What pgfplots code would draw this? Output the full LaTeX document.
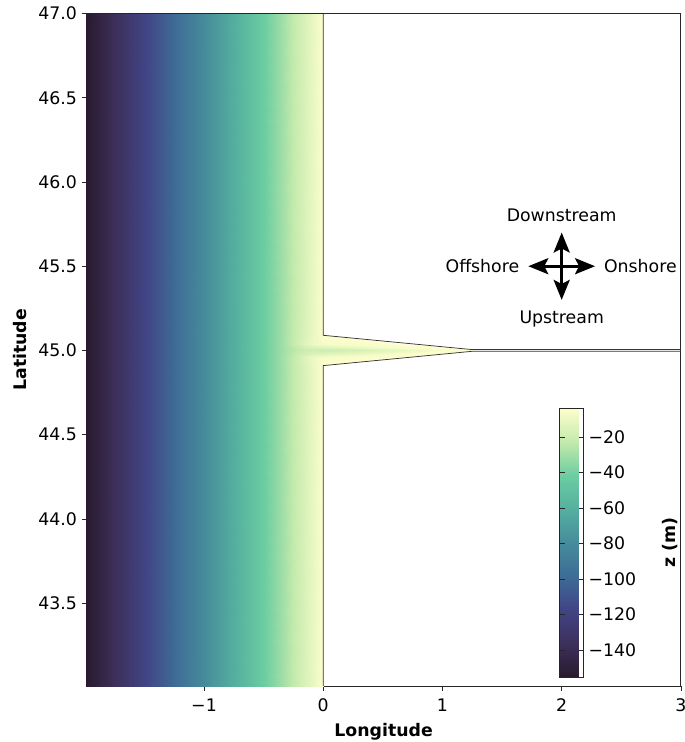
\documentclass[border=0pt]{standalone}
\usepackage{fontspec}
\setmainfont{DejaVu Sans}
\usepackage{pgfplots}
\pgfplotsset{compat=1.18}
\usetikzlibrary{arrows.meta}
\pgfplotsset{colormap={deep}{rgb255=(40,26,44) rgb255=(61,48,92) rgb255=(65,68,133) rgb255=(62,108,150) rgb255=(70,140,155) rgb255=(85,175,160) rgb255=(108,205,160) rgb255=(195,234,172) rgb255=(253,254,204)}}
\begin{document}
\begin{tikzpicture}
\useasboundingbox (-64.8pt,-42pt) rectangle (448.95pt,514.9pt);
\begin{axis}[
  at={(0pt,0pt)},anchor=south west,
  scale only axis,width=446.25pt,height=504.75pt,
  xmin=-1.987,xmax=3,ymin=43.008,ymax=47,
  font=\fontsize{13}{15}\selectfont,
  axis line style={line width=0.75pt,black!85},
  tick style={line width=0.6pt,black!85},
  tick align=outside,major tick length=3.6pt,
  xtick pos=bottom,ytick pos=left,
  xtick={-1,0,1,2,3},xticklabels={−1,0,1,2,3},
  ytick={43.5,44,44.5,45,45.5,46,46.5,47},
  yticklabels={43.5,44.0,44.5,45.0,45.5,46.0,46.5,47.0},
  xticklabel style={yshift=-2.5pt},
  xlabel={\textbf{Longitude}},ylabel={\textbf{Latitude}},
  xlabel style={yshift=-2pt},ylabel style={yshift=1.5pt},
  colormap name=deep,
  point meta min=-155.2,point meta max=-3.7,
  colorbar,
  colorbar style={
    at={(0.7966,0.0134)},anchor=south west,
    scale only axis,width=18pt,height=201.75pt,
    font=\fontsize{13}{15}\selectfont,
    ytick={-140,-120,-100,-80,-60,-40,-20},
    yticklabels={−140,−120,−100,−80,−60,−40,−20},
    ylabel={\textbf{z (m)}},
    ylabel style={font=\fontsize{13}{15}\selectfont,yshift=-13pt},
    yticklabel style={font=\fontsize{13}{15}\selectfont},
    axis line style={line width=0.75pt,black!85},
    tick style={line width=0.6pt,black!85},
    major tick length=3.6pt,
  },
]
\addplot[surf,shader=interp,mesh/cols=8,point meta=explicit] table[x=x,y=y,meta=z] {
x y z
-1.987 43.008 -155.1
-1 43.008 -79.9
-0.5 43.008 -41.8
-0.35 43.008 -30.4
-0.25 43.008 -22.8
-0.15 43.008 -15.1
-0.08 43.008 -9.8
0 43.008 -3.7
-1.987 44.8 -155.1
-1 44.8 -79.9
-0.5 44.8 -41.8
-0.35 44.8 -30.4
-0.25 44.8 -22.8
-0.15 44.8 -15.1
-0.08 44.8 -9.8
0 44.8 -3.7
-1.987 44.91 -155.1
-1 44.91 -79.9
-0.5 44.91 -41.8
-0.35 44.91 -30.4
-0.25 44.91 -22.5
-0.15 44.91 -14.5
-0.08 44.91 -9
0 44.91 -3.7
-1.987 44.96 -155.1
-1 44.96 -79.9
-0.5 44.96 -41.8
-0.35 44.96 -30.2
-0.25 44.96 -22
-0.15 44.96 -13.5
-0.08 44.96 -8.5
0 44.96 -6
-1.987 44.98 -155.1
-1 44.98 -79.9
-0.5 44.98 -41.8
-0.35 44.98 -30.3
-0.25 44.98 -23.5
-0.15 44.98 -17
-0.08 44.98 -14
0 44.98 -13
-1.987 45 -155.1
-1 45 -79.9
-0.5 45 -41.8
-0.35 45 -30.4
-0.25 45 -24.5
-0.15 45 -20
-0.08 45 -19
0 45 -20
-1.987 45.02 -155.1
-1 45.02 -79.9
-0.5 45.02 -41.8
-0.35 45.02 -30.3
-0.25 45.02 -23.5
-0.15 45.02 -17
-0.08 45.02 -14
0 45.02 -13
-1.987 45.04 -155.1
-1 45.04 -79.9
-0.5 45.04 -41.8
-0.35 45.04 -30.2
-0.25 45.04 -22
-0.15 45.04 -13.5
-0.08 45.04 -8.5
0 45.04 -6
-1.987 45.09 -155.1
-1 45.09 -79.9
-0.5 45.09 -41.8
-0.35 45.09 -30.4
-0.25 45.09 -22.5
-0.15 45.09 -14.5
-0.08 45.09 -9
0 45.09 -3.7
-1.987 45.2 -155.1
-1 45.2 -79.9
-0.5 45.2 -41.8
-0.35 45.2 -30.4
-0.25 45.2 -22.8
-0.15 45.2 -15.1
-0.08 45.2 -9.8
0 45.2 -3.7
-1.987 47 -155.1
-1 47 -79.9
-0.5 47 -41.8
-0.35 47 -30.4
-0.25 47 -22.8
-0.15 47 -15.1
-0.08 47 -9.8
0 47 -3.7
};
\addplot[surf,shader=interp,mesh/cols=5,point meta=explicit] table[x=x,y=y,meta=z] {
x y z
0 44.91 -3.7
0.3 44.9316 -3.7
0.6 44.9532 -3.7
0.9 44.9748 -3.7
1.25 44.995 -3.7
0 44.96 -6
0.3 44.9696 -5.5
0.6 44.9792 -5
0.9 44.9888 -4.5
1.25 44.9975 -3.7
0 44.98 -13
0.3 44.9848 -11.5
0.6 44.9896 -9
0.9 44.9944 -6
1.25 44.999 -3.7
0 45 -20
0.3 45 -17
0.6 45 -12
0.9 45 -7.5
1.25 45 -4
0 45.02 -13
0.3 45.0152 -11.5
0.6 45.0104 -9
0.9 45.0056 -6
1.25 45.001 -3.7
0 45.04 -6
0.3 45.0304 -5.5
0.6 45.0208 -5
0.9 45.0112 -4.5
1.25 45.0025 -3.7
0 45.09 -3.7
0.3 45.0684 -3.7
0.6 45.0468 -3.7
0.9 45.0252 -3.7
1.25 45.005 -3.7
};
\addplot[line width=0.55pt,color=black!80,forget plot] coordinates {(0,43.008) (0,44.91) (1.25,44.995) (3,44.995)};
\addplot[line width=0.55pt,color=black!80,forget plot] coordinates {(0,47) (0,45.09) (1.25,45.005) (3,45.005)};
\draw[line width=2.2pt,{Stealth[length=15pt,width=12pt,inset=3pt]}-{Stealth[length=15pt,width=12pt,inset=3pt]}] (axis cs:1.72,45.5) -- (axis cs:2.28,45.5);
\draw[line width=2.2pt,{Stealth[length=15pt,width=12pt,inset=3pt]}-{Stealth[length=15pt,width=12pt,inset=3pt]}] (axis cs:2,45.3) -- (axis cs:2,45.7);
\node[anchor=center] at (axis cs:2,45.8) {Downstream};
\node[anchor=center] at (axis cs:1.335,45.5) {Offshore};
\node[anchor=center] at (axis cs:2.66,45.5) {Onshore};
\node[anchor=center] at (axis cs:2,45.187) {Upstream};
\end{axis}
\end{tikzpicture}
\end{document}
